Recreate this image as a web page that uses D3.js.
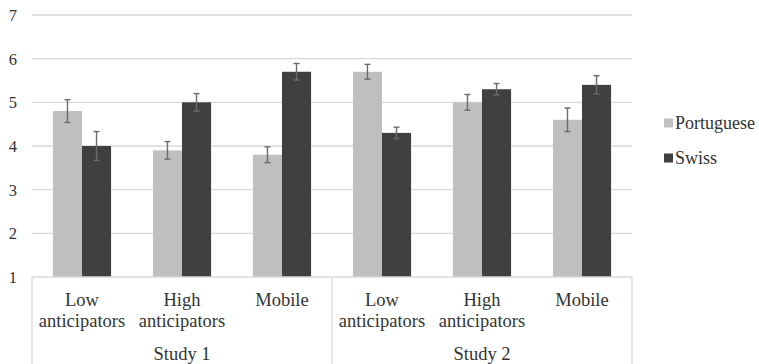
<!DOCTYPE html>
<html>
<head>
<meta charset="utf-8">
<script src="https://cdn.jsdelivr.net/npm/d3@7"></script>
</head>
<body style="margin:0">
<svg id="chart" width="759" height="364"></svg>
<script>
// Groups and their sub-categories (two-line labels)
const studies = ["Study 1", "Study 2"];
const categories = [
  ["Low", "anticipators"], ["High", "anticipators"], ["Mobile"],
  ["Low", "anticipators"], ["High", "anticipators"], ["Mobile"]
];
const seriesNames = ["Portuguese", "Swiss"];
const portuguese = [4.8, 3.9, 3.8, 5.7, 5.0, 4.6];
const swiss      = [4.0, 5.0, 5.7, 4.3, 5.3, 5.4];
const portugueseErr = [0.26, 0.2, 0.18, 0.17, 0.18, 0.27];
const swissErr      = [0.33, 0.2, 0.19, 0.13, 0.13, 0.21];
const yTicks = [1, 2, 3, 4, 5, 6, 7];
const colors = ["#bfbfbf", "#404040"];

const svg = d3.select("#chart");
const plotLeft = 32, plotRight = 632, plotTop = 15, plotBottom = 277;

const x = d3.scaleBand().domain(d3.range(categories.length)).range([plotLeft, plotRight]);
const xs = d3.scaleBand().domain([0, 1]).range([0, x.bandwidth()]).paddingInner(0).paddingOuter(0.72);
const y = d3.scaleLinear().domain([1, 7]).range([plotBottom, plotTop]);

// Horizontal gridlines
svg.append("g").selectAll("line").data(yTicks.slice(1)).join("line")
  .attr("x1", plotLeft).attr("x2", plotRight)
  .attr("y1", d => y(d)).attr("y2", d => y(d))
  .attr("stroke", "#d9d9d9").attr("stroke-width", 1.3);

// Bars
const series = [portuguese, swiss];
const errs = [portugueseErr, swissErr];
series.forEach((vals, s) => {
  svg.append("g").selectAll("rect").data(vals).join("rect")
    .attr("x", (d, i) => x(i) + xs(s))
    .attr("width", xs.bandwidth())
    .attr("y", d => y(d))
    .attr("height", d => y(1) - y(d))
    .attr("fill", colors[s]);
});

// Error bars
series.forEach((vals, s) => {
  const g = svg.append("g").attr("stroke", "#6b6b6b").attr("stroke-width", 1.4);
  vals.forEach((v, i) => {
    const cx = x(i) + xs(s) + xs.bandwidth() / 2;
    const hi = y(v + errs[s][i]), lo = y(v - errs[s][i]);
    g.append("line").attr("x1", cx).attr("x2", cx).attr("y1", hi).attr("y2", lo);
    g.append("line").attr("x1", cx - 3).attr("x2", cx + 3).attr("y1", hi).attr("y2", hi);
    g.append("line").attr("x1", cx - 3).attr("x2", cx + 3).attr("y1", lo).attr("y2", lo);
  });
});

// Category axis box
const axisG = svg.append("g").attr("stroke", "#d9d9d9").attr("stroke-width", 1.3);
axisG.append("line").attr("x1", plotLeft).attr("x2", plotRight).attr("y1", plotBottom).attr("y2", plotBottom);
[plotLeft, x(3), plotRight].forEach(px => {
  axisG.append("line").attr("x1", px).attr("x2", px).attr("y1", plotBottom).attr("y2", 364);
});

// All text labels: y ticks, categories, studies, legend
const labels = [];
yTicks.forEach(t => labels.push({ text: String(t), x: 17, y: y(t) + 6, anchor: "end", size: 16.5 }));
categories.forEach((lines, i) => lines.forEach((ln, k) =>
  labels.push({ text: ln, x: x(i) + x.bandwidth() / 2, y: 306 + k * 21, anchor: "middle", size: 18.5 })));
studies.forEach((st, j) =>
  labels.push({ text: st, x: x(j * 3) + x.bandwidth() * 1.5, y: 360, anchor: "middle", size: 18.5 }));
seriesNames.forEach((name, s) =>
  labels.push({ text: name, x: 675, y: 129 + s * 35, anchor: "start", size: 18 }));

svg.append("g").selectAll("text").data(labels).join("text")
  .attr("x", d => d.x).attr("y", d => d.y)
  .attr("text-anchor", d => d.anchor)
  .attr("font-size", d => d.size)
  .attr("fill", "#333")
  .style("font-family", "\"Liberation Serif\", \"Times New Roman\", serif")
  .text(d => d.text);

// Legend swatches
seriesNames.forEach((name, s) => {
  svg.append("rect").attr("x", 664).attr("y", 118.5 + s * 35).attr("width", 9).attr("height", 9).attr("fill", colors[s]);
});
</script>
</body>
</html>
